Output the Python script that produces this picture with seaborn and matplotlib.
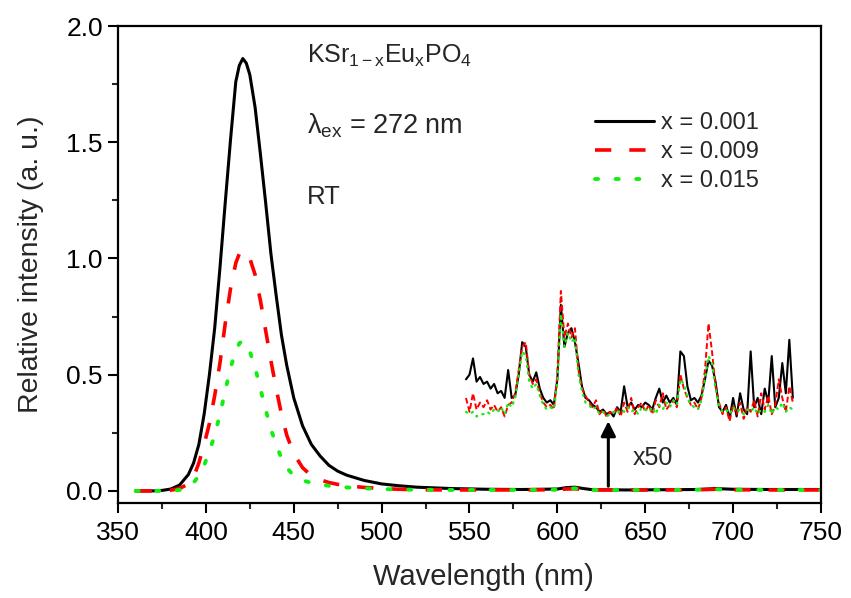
import numpy as np
import pandas as pd
import matplotlib
matplotlib.use("Agg")
import matplotlib.pyplot as plt
from matplotlib.ticker import MultipleLocator
import seaborn as sns

# ---------------- data ----------------
wl_main = [360, 365, 370, 375, 380, 385, 390, 393, 396, 399, 402, 405, 408, 411, 414,
           417, 419, 421, 423, 425, 428, 431, 434, 437, 440, 443, 446, 450, 455, 460,
           465, 470, 475, 480, 490, 500, 510, 520, 540, 560, 580, 600, 605, 610, 615,
           620, 640, 660, 680, 690, 700, 720, 750]
black_main = [0.0, 0.0, 0.0, 0.002, 0.008, 0.025, 0.07, 0.12, 0.2, 0.33, 0.5, 0.7, 0.96, 1.24, 1.51,
              1.76, 1.83, 1.86, 1.84, 1.79, 1.65, 1.45, 1.24, 1.02, 0.84, 0.67, 0.54, 0.40, 0.28, 0.20,
              0.15, 0.11, 0.085, 0.068, 0.045, 0.03, 0.022, 0.016, 0.01, 0.007, 0.006, 0.008, 0.014, 0.016, 0.01,
              0.005, 0.004, 0.005, 0.006, 0.01, 0.007, 0.006, 0.006]
red_main = [0.0, 0.0, 0.0, 0.001, 0.003, 0.01, 0.03, 0.06, 0.12, 0.2, 0.29, 0.41, 0.55, 0.72, 0.87,
            0.98, 1.02, 1.035, 1.02, 1.0, 0.93, 0.82, 0.69, 0.56, 0.44, 0.33, 0.24, 0.16, 0.10, 0.065,
            0.048, 0.036, 0.028, 0.022, 0.015, 0.01, 0.007, 0.005, 0.004, 0.004, 0.004, 0.005, 0.008, 0.009, 0.006,
            0.004, 0.004, 0.004, 0.005, 0.007, 0.005, 0.004, 0.004]
green_main = [0.0, 0.0, 0.0, 0.0, 0.0, 0.004, 0.015, 0.035, 0.065, 0.11, 0.17, 0.24, 0.33, 0.43, 0.53,
              0.60, 0.635, 0.645, 0.63, 0.60, 0.53, 0.44, 0.35, 0.265, 0.2, 0.14, 0.1, 0.065, 0.045, 0.035,
              0.028, 0.022, 0.018, 0.015, 0.011, 0.008, 0.006, 0.005, 0.004, 0.004, 0.004, 0.005, 0.01, 0.011, 0.007,
              0.004, 0.004, 0.004, 0.005, 0.007, 0.005, 0.004, 0.004]

# magnified (x50) and shifted section
wl_zoom = list(range(548, 736, 2))
black_zoom = [0.48, 0.50, 0.57, 0.47, 0.49, 0.46, 0.47, 0.44, 0.46, 0.42, 0.43, 0.40, 0.52, 0.40, 0.41,
              0.50, 0.64, 0.62, 0.50, 0.47, 0.51, 0.44, 0.40, 0.38, 0.39, 0.37, 0.48, 0.80, 0.62, 0.68,
              0.70, 0.64, 0.55, 0.45, 0.40, 0.39, 0.37, 0.36, 0.34, 0.35, 0.33, 0.34, 0.32, 0.36, 0.34,
              0.45, 0.36, 0.38, 0.35, 0.37, 0.36, 0.38, 0.37, 0.35, 0.40, 0.44, 0.38, 0.41, 0.38, 0.40,
              0.37, 0.60, 0.58, 0.45, 0.39, 0.40, 0.38, 0.41, 0.48, 0.56, 0.54, 0.47, 0.36, 0.34, 0.37,
              0.31, 0.40, 0.32, 0.42, 0.35, 0.33, 0.60, 0.36, 0.40, 0.33, 0.44, 0.38, 0.58, 0.36, 0.40,
              0.55, 0.42, 0.65, 0.40]
red_zoom = [0.40, 0.34, 0.42, 0.35, 0.38, 0.36, 0.39, 0.35, 0.37, 0.34, 0.36, 0.32, 0.37, 0.38, 0.42,
            0.52, 0.62, 0.64, 0.50, 0.46, 0.48, 0.42, 0.38, 0.36, 0.37, 0.35, 0.50, 0.86, 0.66, 0.72,
            0.66, 0.70, 0.52, 0.44, 0.41, 0.38, 0.36, 0.39, 0.33, 0.35, 0.32, 0.34, 0.33, 0.36, 0.32,
            0.38, 0.34, 0.40, 0.33, 0.36, 0.38, 0.34, 0.37, 0.33, 0.39, 0.36, 0.42, 0.35, 0.37, 0.39,
            0.36, 0.50, 0.44, 0.40, 0.37, 0.38, 0.35, 0.40, 0.52, 0.72, 0.60, 0.45, 0.38, 0.33, 0.36,
            0.30, 0.37, 0.33, 0.38, 0.31, 0.36, 0.34, 0.39, 0.32, 0.42, 0.35, 0.41, 0.33, 0.37, 0.48,
            0.40, 0.34, 0.45, 0.38]
green_zoom = [0.34, 0.33, 0.34, 0.32, 0.33, 0.33, 0.34, 0.33, 0.35, 0.34, 0.36, 0.33, 0.38, 0.36, 0.40,
              0.50, 0.60, 0.58, 0.47, 0.44, 0.46, 0.41, 0.37, 0.35, 0.36, 0.35, 0.47, 0.76, 0.62, 0.68,
              0.64, 0.66, 0.50, 0.43, 0.38, 0.37, 0.35, 0.36, 0.33, 0.34, 0.32, 0.33, 0.34, 0.33, 0.35,
              0.34, 0.36, 0.34, 0.35, 0.33, 0.36, 0.35, 0.34, 0.36, 0.33, 0.37, 0.35, 0.38, 0.36, 0.39,
              0.37, 0.48, 0.46, 0.40, 0.37, 0.36, 0.35, 0.39, 0.48, 0.58, 0.55, 0.44, 0.37, 0.34, 0.35,
              0.33, 0.36, 0.34, 0.35, 0.33, 0.35, 0.34, 0.36, 0.33, 0.35, 0.34, 0.37, 0.33, 0.36, 0.35,
              0.38, 0.34, 0.36, 0.35]

labels = ["x = 0.001", "x = 0.009", "x = 0.015"]
colors = ["#000000", "#ff0000", "#11ee11"]

# ---------------- style ----------------
sns.set_theme(style="white")
plt.rcParams["font.family"] = ["Liberation Sans", "DejaVu Sans"]
plt.rcParams["mathtext.fontset"] = "custom"
plt.rcParams["mathtext.rm"] = "Liberation Sans"
plt.rcParams["mathtext.it"] = "Liberation Sans:italic"

fig = plt.figure(figsize=(8.51, 5.98), dpi=100)
ax = fig.add_axes([0.1387, 0.1589, 0.8260, 0.7976])

styles_main = [dict(lw=2.2, linestyle="-"),
               dict(lw=2.6, linestyle=(0, (4.5, 5))),
               dict(lw=2.8, linestyle=(0, (0.8, 4.5)), dash_capstyle="round")]
styles_zoom = [dict(lw=1.5, linestyle="-"),
               dict(lw=1.4, linestyle=(0, (3, 1.5))),
               dict(lw=1.6, linestyle=(0, (0.6, 2.5)), dash_capstyle="round")]

mains = [black_main, red_main, green_main]
zooms = [black_zoom, red_zoom, green_zoom]

for i in range(3):
    sns.lineplot(x=wl_main, y=mains[i], ax=ax, color=colors[i], label=labels[i],
                 sort=False, estimator=None, **styles_main[i])
for i in range(3):
    sns.lineplot(x=wl_zoom, y=zooms[i], ax=ax, color=colors[i],
                 sort=False, estimator=None, **styles_zoom[i])

ax.set_xlim(350, 750)
ax.set_ylim(-0.052, 2.0)
ax.xaxis.set_major_locator(MultipleLocator(50))
ax.xaxis.set_minor_locator(MultipleLocator(25))
ax.yaxis.set_major_locator(MultipleLocator(0.5))
ax.yaxis.set_minor_locator(MultipleLocator(0.25))
ax.tick_params(which="major", direction="out", length=7, width=1.5, labelsize=19,
               bottom=True, left=True, colors="black")
ax.tick_params(axis="x", which="major", pad=6)
ax.tick_params(axis="y", which="major", pad=4)
ax.tick_params(which="minor", direction="out", length=4, width=1.5,
               bottom=True, left=True)
for s in ax.spines.values():
    s.set_linewidth(1.6)
    s.set_color("black")

ax.set_xlabel("Wavelength (nm)", fontsize=21)
ax.set_ylabel("Relative intensity (a. u.)", fontsize=20.5, labelpad=16)
ax.xaxis.set_label_coords(0.52, -0.125)

ax.text(457.5, 1.87, r"KS$\mathregular{r_{1-x}}$Eu$\mathregular{_x}$PO$\mathregular{_4}$",
        fontsize=18, va="center", ha="left")
ax.text(457.5, 1.57, "\u03bb$\\mathregular{_{ex}}$ = 272 nm", fontsize=19.5, va="center", ha="left")
ax.text(457.5, 1.265, "RT", fontsize=18.5, va="center", ha="left")

ax.annotate("", xy=(629, 0.30), xytext=(629, 0.02),
            arrowprops=dict(arrowstyle="-|>", lw=2.2, color="black", mutation_scale=22,
                            shrinkA=0, shrinkB=0))
ax.text(643, 0.14, "x50", fontsize=18, va="center", ha="left")

leg = ax.legend(loc="upper left", bbox_to_anchor=(0.665, 0.84), frameon=False,
                fontsize=17, handlelength=2.5, handletextpad=0.3, labelspacing=0.3,
                borderaxespad=0)

fig.savefig("out.png", dpi=100)
